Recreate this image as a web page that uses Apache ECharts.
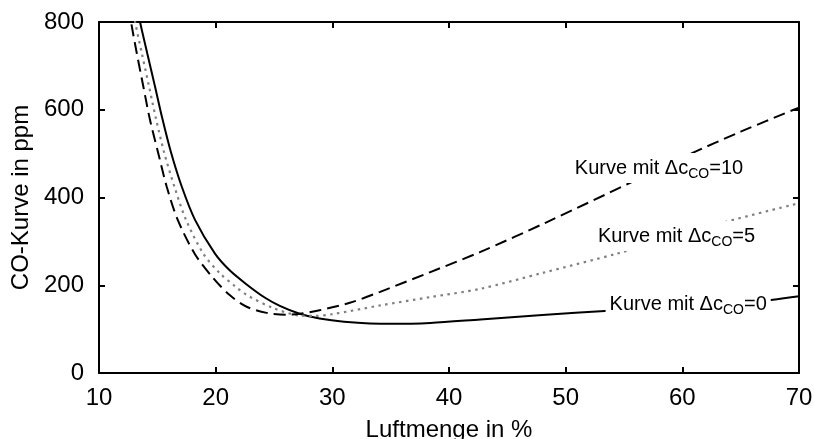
<html>
<head>
<meta charset="utf-8">
<script src="https://cdn.jsdelivr.net/npm/echarts@6/dist/echarts.min.js"></script>
</head>
<body style="margin:0">
<div id="co_chart" style="width: 814px; height: 439px;"></div>

<script type="text/javascript">

// values (x = Luftmenge in %, y = ppm)
var kurve0 = [
  [13.3, 835], [13.51, 801], [14.15, 727], [14.8, 653], [15.43, 580], [16.17, 503],
  [17.09, 425], [18.23, 349], [19.94, 272], [21.2, 234], [22.6, 203], [24.2, 172],
  [25.5, 153], [27.2, 135], [28.9, 124], [31, 117], [34.9, 112], [38.4, 114],
  [42.7, 122], [48, 132], [53.7, 142], [60, 151], [66, 162], [70, 175]
];
var kurve5 = [
  [12.9, 835], [13.09, 801], [13.66, 730], [14.29, 653], [14.89, 579], [15.6, 501],
  [16.46, 425], [17.46, 349], [18.94, 272], [20.37, 227], [21.66, 198], [22.66, 178],
  [24.94, 148], [27.2, 131], [28.5, 130], [30, 134], [34.1, 154], [38.4, 173],
  [42.7, 192], [48, 228], [54.4, 272], [59, 307], [63.8, 345], [70, 387]
];
var kurve10 = [
  [12.55, 835], [12.74, 801], [13.23, 730], [13.8, 653], [14.37, 577], [15.08, 501],
  [15.8, 425], [16.75, 349], [18.2, 272], [19.8, 216], [21.23, 177], [22.66, 151],
  [24.37, 137], [26, 133], [27.2, 135], [28.9, 143], [31.5, 160], [34.1, 185],
  [38.4, 230], [42.7, 276], [48.4, 344], [55.8, 437], [60.5, 497], [65, 550], [70, 605]
];

var labelX = [58.0, 59.5, 60.5];
var labelY = [467, 312, 156];
var labelDelta = ['10', '5', '0'];

var xTicks = [10, 20, 30, 40, 50, 60, 70];
var yTicks = [0, 200, 400, 600, 800];

var chartDom = document.getElementById('co_chart');
var myChart = echarts.init(chartDom);

var font = 'Liberation Sans, Arial, Helvetica, sans-serif';

function frameAxis(pos, isX, show) {
  return {
    type: 'value',
    position: pos,
    min: isX ? xTicks[0] : yTicks[0],
    max: isX ? xTicks[xTicks.length - 1] : yTicks[yTicks.length - 1],
    interval: isX ? 10 : 200,
    splitLine: {show: false},
    axisLine: {show: true, onZero: false, lineStyle: {color: '#000', width: 2}},
    axisTick: {show: true, inside: true, length: 6, lineStyle: {color: '#000', width: 2}},
    axisLabel: {show: show, color: '#000', fontSize: 24, fontFamily: font, margin: isX ? 13 : 15}
  };
}

var xMain = frameAxis('bottom', true, true);
xMain.name = 'Luftmenge in %';
xMain.nameLocation = 'middle';
xMain.nameGap = 45;
xMain.nameTextStyle = {color: '#000', fontSize: 24, fontFamily: font};

var yMain = frameAxis('left', false, true);
yMain.name = 'CO-Kurve in ppm';
yMain.nameLocation = 'middle';
yMain.nameGap = 62;
yMain.nameTextStyle = {color: '#000', fontSize: 24, fontFamily: font};

function lineSeries(name, data, style) {
  return {
    name: name, type: 'line', data: data, showSymbol: false,
    smooth: 0.3, lineStyle: style
  };
}

var option = {
  animation: false,
  backgroundColor: '#fff',
  grid: {left: 99, right: 15, top: 22, bottom: 66, containLabel: false, outerBoundsMode: 'none'},
  xAxis: [xMain, frameAxis('top', true, false)],
  yAxis: [yMain, frameAxis('right', false, false)],
  series: [
    lineSeries('kurve0', kurve0, {color: '#000', width: 2}),
    lineSeries('kurve5', kurve5, {color: '#808080', width: 2.2, type: [2.5, 4.5]}),
    lineSeries('kurve10', kurve10, {color: '#000', width: 2, type: [12, 6]})
  ]
};

myChart.setOption(option);

// curve labels, placed through the chart's own scales
var labels = [];
for (var i = 0; i < labelX.length; i++) {
  var p = myChart.convertToPixel({xAxisIndex: 0, yAxisIndex: 0}, [labelX[i], labelY[i]]);
  labels.push({
    type: 'text',
    z: 100,
    x: p[0],
    y: p[1],
    style: {
      text: '{n|Kurve mit \u0394c}{s|CO}{n|=' + labelDelta[i] + '}',
      align: 'center',
      verticalAlign: 'middle',
      backgroundColor: '#fff',
      padding: [2, 4],
      rich: {
        n: {fontSize: 20, fontFamily: font, fill: '#000', lineHeight: 26},
        s: {fontSize: 14, fontFamily: font, fill: '#000', lineHeight: 14, verticalAlign: 'bottom'}
      }
    }
  });
}
myChart.setOption({graphic: labels});

</script>
</body>
</html>
